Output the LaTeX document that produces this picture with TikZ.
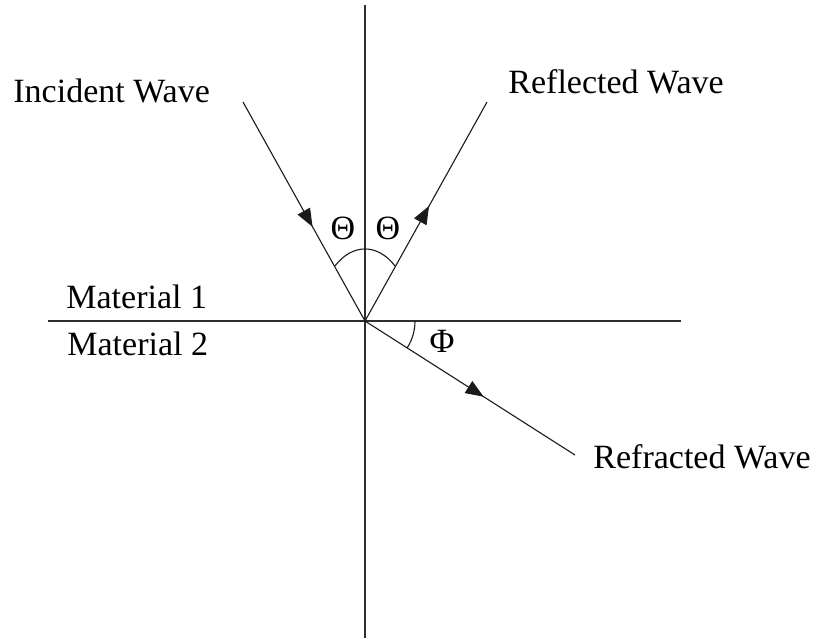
\documentclass[tikz,border=0pt]{standalone}
\usepackage{fontspec}
\setmainfont{Liberation Serif}
\usepackage{xcolor}
\usepackage{tikz}
\usetikzlibrary{arrows.meta,decorations.markings}
\definecolor{AxisLine}{HTML}{2E2E2E}
\definecolor{RayLine}{HTML}{1A1A1A}

\begin{document}
\begin{tikzpicture}[x=0.5pt,y=-0.5pt,
  axisline/.style={AxisLine,line width=1pt},
  rayline/.style={RayLine,line width=0.55pt},
  midarrow/.style={postaction={decorate,decoration={markings,
    mark=at position #1 with {\arrow{Triangle[length=9pt,width=7pt]}}}}},
  lab/.style={inner sep=0pt,font=\fontsize{17}{20}\selectfont}]
\useasboundingbox (0,0) rectangle (822,638);
% interface and normal
\coordinate (O) at (365,321);
\coordinate (top) at (365,5);
\coordinate (bot) at (365,638);
\coordinate (west) at (48,321);
\coordinate (east) at (681,321);
\draw[axisline] (top) -- (bot);
\draw[axisline] (west) -- (east);
% rays
\coordinate (inc) at (243,102);
\coordinate (refl) at (487,102);
\coordinate (refr) at (575,455);
\draw[rayline,midarrow=0.57] (inc) -- (O);
\draw[rayline,midarrow=0.525] (O) -- (refl);
\draw[rayline,midarrow=0.565] (O) -- (refr);
% angles
\draw[rayline] (O) ++(-29.9,-55.2) arc[start angle=130,end angle=50,x radius=23.25pt,y radius=36pt];
\draw[rayline] (O) ++(50,0) arc[start angle=0,end angle=-32.5,radius=25pt];
\node[lab] (thA) at (343,228) {Θ};
\node[lab] (thB) at (388,228) {Θ};
\node[lab] (phi) at (442,341) {Φ};
% labels
\foreach \nm/\x/\y/\lab in {inclab/13/102/Incident Wave,refllab/508/93/Reflected Wave,
  refrlab/593/468/Refracted Wave,matA/66/308/Material 1,matB/67/355/Material 2}
  \node[lab,anchor=base west] (\nm) at (\x,\y) {\lab};
\end{tikzpicture}
\end{document}
